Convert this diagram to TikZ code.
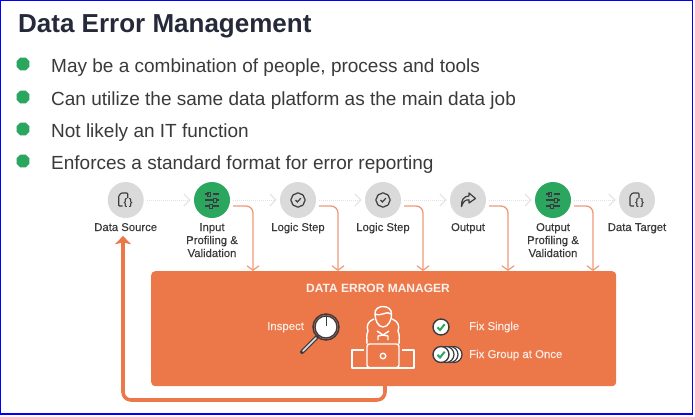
\documentclass[tikz,border=0pt]{standalone}
\usepackage{fontspec}
\setmainfont{Liberation Sans}
\usetikzlibrary{arrows.meta,shapes.geometric,positioning}
\definecolor{orangeA}{HTML}{EC784A}
\definecolor{orangeL}{HTML}{EE9A78}
\definecolor{greenA}{HTML}{2BA65F}
\definecolor{greyC}{HTML}{DADADA}
\definecolor{titleC}{HTML}{252A3A}
\definecolor{textC}{HTML}{3A3A3C}
\definecolor{iconC}{HTML}{3C3C40}
\definecolor{dotC}{HTML}{E2E2E2}
\tikzset{
  x=1pt,y=-1pt,
  stepcircle/.style={circle,minimum size=36pt,inner sep=0pt,fill=greyC},
  greencircle/.style={stepcircle,fill=greenA},
  lbl/.style={font=\fontsize{11.3}{13}\selectfont\addfontfeatures{FakeBold=0.25},text=textC,align=center,anchor=base},
  bullettext/.style={font=\fontsize{19}{22}\selectfont,text=textC,anchor=base west},
  dot/.style={regular polygon,regular polygon sides=8,minimum size=14pt,inner sep=0pt,fill=greenA},
  flow/.style={dotC,line width=1pt,dash pattern=on 1pt off 1pt},
  chev/.style={dotC,line width=1pt},
  feed/.style={orangeL,line width=1.3pt,rounded corners=7pt,-{Straight Barb[length=4.5pt,width=12pt,line width=1.2pt]}},
  back/.style={orangeA,line width=3.6pt,rounded corners=8pt,-{Stealth[length=8.5pt,width=16pt,inset=2pt]}},
  boxtext/.style={font=\fontsize{11.4}{13}\selectfont\addfontfeatures{FakeBold=0.2},text=white!85!orangeA,anchor=base west},
  pics/docicon/.style={code={
    \draw[iconC,line width=1.1pt,rounded corners=.8pt] (-3,6) -- (-7,6) -- (-7,-4) -- (-4.5,-7) -- (2,-7) -- (2,-2);
    \node[font=\fontsize{9.5}{9.5}\selectfont\bfseries,text=iconC,inner sep=0] at (2.5,3) {\{\,\}};
  }},
  pics/sliders/.style={code={
    \draw[iconC,line width=1.1pt] (-7,-6) -- (-3,-6) (1,-6) -- (7,-6) (-7,0) -- (1,0) (5,0) -- (7,0) (-7,6) -- (-3,6) (1,6) -- (7,6);
    \draw[iconC,line width=1pt] (-5,-8) rectangle (-2,-4) (1.5,-2) rectangle (4.5,2) (-3,4) rectangle (0,8);
  }},
  pics/gear/.style={code={
    \draw[iconC,line width=1.2pt,rounded corners=1pt] (0,-7.5) -- (2.2,-6) -- (5.3,-5.3) -- (6,-2.2) -- (7.5,0) -- (6,2.2) -- (5.3,5.3) -- (2.2,6) -- (0,7.5) -- (-2.2,6) -- (-5.3,5.3) -- (-6,2.2) -- (-7.5,0) -- (-6,-2.2) -- (-5.3,-5.3) -- (-2.2,-6) -- cycle;
    \draw[iconC,line width=1.2pt] (-2.5,0) -- (-.6,2) -- (2.8,-1.8);
  }},
  pics/share/.style={code={
    \draw[iconC,line width=1.2pt,line join=round] (1,-7) -- (7.5,-1.5) -- (1,3) -- (1,-.2) .. controls (-3,-.5) and (-5,2) .. (-6.5,6.5) .. controls (-7,0) and (-4,-4) .. (1,-4) -- cycle;
  }},
  pics/tick/.style={code={
    \draw[draw=iconC,line width=1.4pt,fill=white] (0,0) circle (8);
    \draw[greenA,line width=2pt] (-3.5,.3) -- (-1,3) -- (3.7,-2.8);
  }}
}
\begin{document}
\begin{tikzpicture}
\useasboundingbox (0,0) rectangle (695,416);
\fill[white] (0,0) rectangle (695,416);
\draw[blue,line width=1.4pt] (.7,.7) -- (692.7,.7) -- (692.7,414) -- (.7,414) -- cycle;

% heading and bullets
\node[font=\fontsize{26}{30}\selectfont\bfseries,text=titleC,anchor=base west,inner sep=0] (title) at (18,32) {Data Error Management};
\node[dot] (b1) at (23,64) {};
\node[dot] (b2) at (23,97) {};
\node[dot] (b3) at (23,129) {};
\node[dot] (b4) at (23,161) {};
\node[bullettext,inner sep=0] (t1) at (51,72) {May be a combination of people, process and tools};
\node[bullettext,inner sep=0] (t2) at (51,105) {Can utilize the same data platform as the main data job};
\node[bullettext,inner sep=0] (t3) at (51,137) {Not likely an IT function};
\node[bullettext,inner sep=0] (t4) at (51,169) {Enforces a standard format for error reporting};

% manager box
\node[fill=orangeA,rounded corners=4pt,minimum width=465pt,minimum height=115pt,inner sep=0,anchor=north west] (mgr) at (151,271) {};

% steps
\node[stepcircle] (n1) at (125.7,200) {};
\node[greencircle] (n2) at (212,200) {};
\node[stepcircle] (n3) at (298,200) {};
\node[stepcircle] (n4) at (383,200) {};
\node[stepcircle] (n5) at (468,200) {};
\node[greencircle] (n6) at (553,200) {};
\node[stepcircle] (n7) at (637,200) {};

\pic at (n1) {docicon};
\pic at (n2) {sliders};
\pic at (n3) {gear};
\pic at (n4) {gear};
\pic at (n5) {share};
\pic at (n6) {sliders};
\pic at (n7) {docicon};

% step labels
\node[lbl,inner sep=0] (l1) at (125.7,231) {Data Source};
\node[lbl,inner sep=0] (l2) at (212,231) {Input};
\node[lbl,inner sep=0] (l2b) at (212,244) {Profiling \&};
\node[lbl,inner sep=0] (l2c) at (212,257) {Validation};
\node[lbl,inner sep=0] (l3) at (298,231) {Logic Step};
\node[lbl,inner sep=0] (l4) at (383,231) {Logic Step};
\node[lbl,inner sep=0] (l5) at (468,231) {Output};
\node[lbl,inner sep=0] (l6) at (553,231) {Output};
\node[lbl,inner sep=0] (l6b) at (553,244) {Profiling \&};
\node[lbl,inner sep=0] (l6c) at (553,257) {Validation};
\node[lbl,inner sep=0] (l7) at (637,231) {Data Target};

% dotted links
\foreach \a/\b in {n1/n2,n2/n3,n3/n4,n4/n5,n5/n6,n6/n7}{
  \draw[flow] ([xshift=3pt]\a.east) -- ([xshift=-5pt]\b.west);
  \draw[chev] ([xshift=-10pt,yshift=6pt]\b.west) -- ([xshift=-4pt]\b.west) -- ([xshift=-10pt,yshift=-6pt]\b.west);
}

% feeds into the manager
\foreach \a/\n/\x in {n2/1/253,n3/2/338,n4/3/423,n5/4/508,n6/5/593}{
  \coordinate (s\n) at ([xshift=3pt,yshift=-6pt]\a.east);
  \coordinate (e\n) at (\x,271);
  \draw[feed] (s\n) -| (e\n);
}

% return line
\coordinate (r0) at (385,386);
\coordinate (r1) at (123,400);
\draw[back] (r0) |- (r1) -- ([yshift=-4.5pt]l1.south -| r1);

% manager contents
\node[font=\fontsize{12}{13}\selectfont\bfseries,text=white!90!orangeA,anchor=base,inner sep=0] (mt) at (378,292) {DATA ERROR MANAGER};
\node[boxtext,inner sep=0] (ins) at (267,330) {Inspect};
\node[boxtext,inner sep=0] (fs) at (469,330) {Fix Single};
\node[boxtext,inner sep=0] (fg) at (469,358) {Fix Group at Once};

% magnifier
\draw[iconC,line width=4pt,line cap=round] (317,337) -- (302,352);
\draw[white!85!iconC,line width=1.6pt,line cap=round] (316,338) -- (303,351);
\draw[iconC,fill=white,line width=1.3pt] (326,327) circle (11);
\draw[iconC,line width=1.5pt] (326,327) circle (13);
\draw[iconC,line width=1pt] (326,316) -- (326,326);

% person with laptop
\begin{scope}[white,line width=1.4pt,line join=round,fill=none]
  \draw (375,314) .. controls (374,304) and (392,304) .. (391.5,314) .. controls (392,320) and (388,327) .. (383,327) .. controls (378,327) and (375,320) .. (375,314) -- cycle;
  \draw (375,314) .. controls (382,317) and (386,310) .. (391.5,314);
  \draw (374,319) .. controls (368,321) and (366,326) .. (368,331) .. controls (366,335) and (367,340) .. (367,344);
  \draw (392,319) .. controls (398,321) and (400,326) .. (398,331) .. controls (400,335) and (399,340) .. (399,344);
  \draw (377,331) -- (383,335) -- (389,331);
  \draw (378,340) -- (378,336) -- (383,335) -- (388,336) -- (388,340) ;
  \draw[rounded corners=2.5pt] (367,367.5) -- (367,344) -- (399,344) -- (399,367.5) -- cycle;
  \draw (364,350) -- (352,350) -- (352,368) -- (414,368) -- (414,350) -- (402,350);
  \draw (383,356) circle (2.8);
\end{scope}

% fix icons
\pic at (441,327) {tick};
\foreach \x in {454,450,446}{
  \draw[iconC,fill=white,line width=1.2pt] (\x,354.5) circle (8);
}
\pic at (441,354.5) {tick};
\end{tikzpicture}
\end{document}
